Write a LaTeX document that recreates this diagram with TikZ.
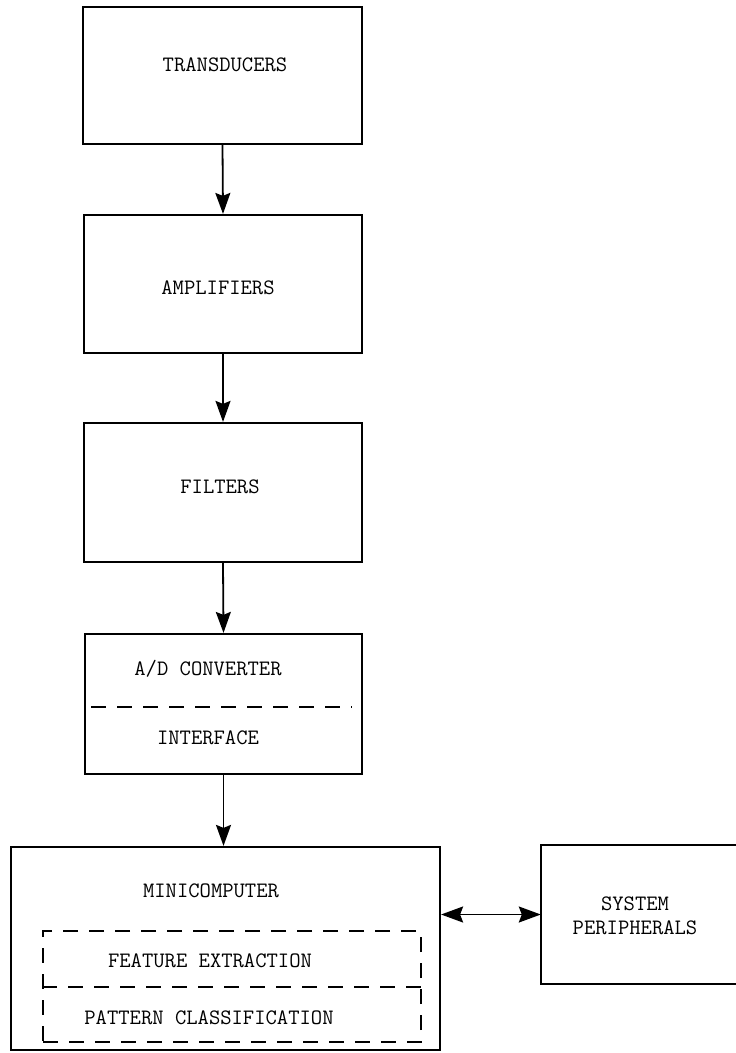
\documentclass[tikz,border=0pt]{standalone}
\usepackage{fontspec}
\usetikzlibrary{arrows.meta}
\begin{document}
\begin{tikzpicture}[x=1pt,y=-1pt,
  box/.style={draw, line width=2.2pt, inner sep=0pt},
  frame/.style={inner sep=0pt},
  lbl/.style={font=\ttfamily\fontsize{22}{24}\selectfont, inner sep=0pt, align=center},
  dashline/.style={line width=2pt, dash pattern=on 15pt off 11pt},
  edge/.style={line width=2.2pt},
  link/.style={line width=1.8pt, -{Stealth[length=21pt,width=15pt,inset=3pt]}},
  dlink/.style={line width=1.8pt, {Stealth[length=22pt,width=16pt,inset=3pt]}-{Stealth[length=22pt,width=16pt,inset=3pt]}}]
\useasboundingbox (0,0) rectangle (736,1053);

% signal chain
\node[box, minimum width=279pt, minimum height=137pt] (trans) at (222.5,75.5) {};
\node[box, minimum width=278pt, minimum height=138pt] (amp) at (223,284) {};
\node[box, minimum width=278pt, minimum height=139pt] (filt) at (223,492.5) {};
\node[box, minimum width=277pt, minimum height=140pt] (adc) at (223.5,704) {};
\node[box, minimum width=429pt, minimum height=203pt] (mini) at (225.5,948.5) {};

% peripherals box, open on the right where the page ends
\node[frame, minimum width=195pt, minimum height=139pt] (periph) at (638.5,914.5) {};
\draw[edge] (periph.north east) -- (periph.north west) -- (periph.south west) -- (periph.south east);

% dashed subdivisions
\draw[dashline] (91,707) -- (352,707);
\node[frame, draw, dashline, minimum width=378pt, minimum height=111pt] (inner) at (232,986.5) {};
\draw[dashline] (inner.west |- 0,987) -- (inner.east |- 0,987);

% labels
\node[lbl] (transT) at (225,65) {TRANSDUCERS};
\node[lbl] (ampT) at (218,288) {AMPLIFIERS};
\node[lbl] (filtT) at (220,487) {FILTERS};
\node[lbl] (adcT) at (208,669) {A/D CONVERTER};
\node[lbl] (ifT) at (208,738) {INTERFACE};
\node[lbl] (miniT) at (211,891) {MINICOMPUTER};
\node[lbl] (featT) at (210,961) {FEATURE EXTRACTION};
\node[lbl] (patT) at (209,1018) {PATTERN CLASSIFICATION};
\node[lbl] (periphT) at (635,916) {SYSTEM\\PERIPHERALS};

% connectors
\draw[link] (trans.south) -- (amp.north);
\draw[link] (amp.south) -- (filt.north);
\draw[link] (filt.south) -- (adc.north);
\draw[link] (adc.south) -- (adc.south |- mini.north);
\draw[dlink] (periph.west -| mini.east) -- (periph.west);
\end{tikzpicture}
\end{document}
